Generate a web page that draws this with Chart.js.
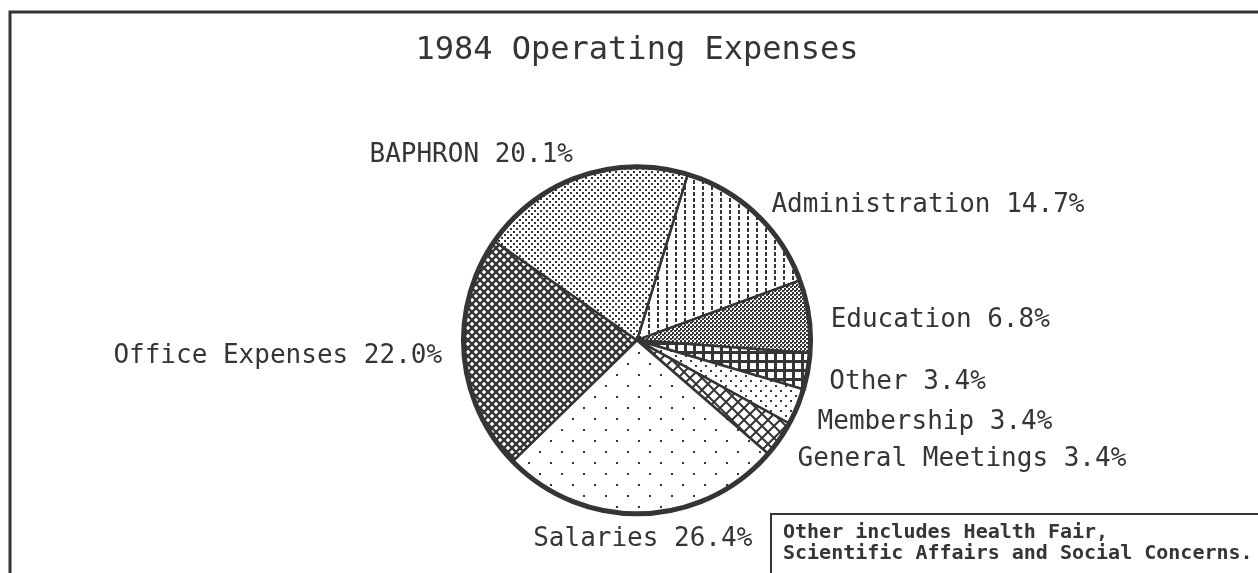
<!DOCTYPE html>
<html>
<head>
<meta charset="utf-8">
<script src="https://cdn.jsdelivr.net/npm/chart.js@4/dist/chart.umd.min.js"></script>
<style>
  html, body { margin: 0; padding: 0; background: #fff; }
  #wrap { width: 1258px; height: 573px; }
</style>
</head>
<body>
<div id="wrap"><canvas id="pieChart" width="1258" height="573"></canvas></div>
<script>
// clockwise, starting at the BAPHRON / Administration edge
var categories = ["Administration", "Education", "Other", "Membership",
  "General Meetings", "Salaries", "Office Expenses", "BAPHRON"];
var shares = [14.7, 6.8, 3.4, 3.4, 3.4, 26.4, 22.0, 20.1];
var shareLabels = ["14.7%", "6.8%", "3.4%", "3.4%", "3.4%", "26.4%", "22.0%", "20.1%"];
var titleText = "1984 Operating Expenses";
var noteLines = ["Other includes Health Fair,", "Scientific Affairs and Social Concerns."];

var ink = "#353535";

function makePattern(w, h, paint) {
  var c = document.createElement("canvas");
  c.width = w; c.height = h;
  var g = c.getContext("2d");
  g.fillStyle = "#fff";
  g.fillRect(0, 0, w, h);
  g.fillStyle = ink;
  g.strokeStyle = ink;
  paint(g, w, h);
  return c.getContext("2d").createPattern(c, "repeat");
}

var pats = {
  vdash: makePattern(9, 6, function (g) { g.fillRect(0, 0, 2, 4); }),
  dense: makePattern(4, 4, function (g) {
    g.fillRect(0, 0, 2, 2); g.fillRect(2, 2, 2, 2); g.fillRect(0, 2, 1, 1);
  }),
  grid: makePattern(9, 9, function (g) { g.fillRect(0, 0, 9, 3); g.fillRect(0, 0, 3, 9); }),
  midDots: makePattern(10, 10, function (g) { g.fillRect(0, 0, 2, 2); g.fillRect(5, 5, 2, 2); }),
  xhatch: makePattern(12, 12, function (g) {
    g.lineWidth = 2;
    g.beginPath();
    g.moveTo(0, 0); g.lineTo(12, 12);
    g.moveTo(12, 0); g.lineTo(0, 12);
    g.moveTo(-1, 11); g.lineTo(1, 13);
    g.moveTo(11, -1); g.lineTo(13, 1);
    g.stroke();
  }),
  sparse: makePattern(22, 22, function (g) { g.fillRect(0, 0, 2, 2); g.fillRect(11, 11, 2, 2); }),
  diamonds: makePattern(8, 8, function (g) {
    g.lineWidth = 2.4;
    g.beginPath();
    g.moveTo(0, 0); g.lineTo(8, 8);
    g.moveTo(8, 0); g.lineTo(0, 8);
    g.stroke();
  }),
  fineDots: makePattern(6, 6, function (g) { g.fillRect(0, 0, 2, 2); g.fillRect(3, 3, 2, 2); })
};

var fills = [pats.vdash, pats.dense, pats.grid, pats.midDots, pats.xhatch,
  pats.sparse, pats.diamonds, pats.fineDots];

var pieDecor = {
  id: "pieDecor",
  afterDatasetsDraw: function (chart) {
    var ctx = chart.ctx;
    var arcs = chart.getDatasetMeta(0).data;
    var a0 = arcs[0].getProps(["x", "y", "outerRadius"], true);
    ctx.save();
    ctx.strokeStyle = ink;
    ctx.lineWidth = 5;
    ctx.beginPath();
    ctx.arc(a0.x, a0.y, a0.outerRadius, 0, Math.PI * 2);
    ctx.stroke();

    // slice labels
    ctx.fillStyle = ink;
    ctx.font = "26px 'DejaVu Sans Mono'";
    ctx.textBaseline = "middle";
    arcs.forEach(function (arc, i) {
      var p = arc.getProps(["x", "y", "startAngle", "endAngle", "outerRadius"], true);
      var mid = (p.startAngle + p.endAngle) / 2;
      var cx = Math.cos(mid), cy = Math.sin(mid);
      var r = p.outerRadius + 22;
      var nudge = 0;
      if (cx > 0.15) { ctx.textAlign = "left"; nudge = 7; }
      else if (cx < -0.15) { ctx.textAlign = "right"; }
      else { ctx.textAlign = "center"; nudge = 4; }
      ctx.fillText(categories[i] + " " + shareLabels[i], p.x + cx * r, p.y + cy * r + nudge);
    });

    // frame
    ctx.lineWidth = 3;
    ctx.beginPath();
    ctx.moveTo(10, 573);
    ctx.lineTo(10, 12);
    ctx.lineTo(1258, 12);
    ctx.stroke();

    // note box
    ctx.lineWidth = 2;
    ctx.beginPath();
    ctx.moveTo(771, 573);
    ctx.lineTo(771, 514);
    ctx.lineTo(1258, 514);
    ctx.stroke();
    ctx.font = "bold 20px 'DejaVu Sans Mono'";
    ctx.textAlign = "left";
    ctx.fillText(noteLines[0], 783, 533);
    ctx.fillText(noteLines[1], 783, 554);
    ctx.restore();
  }
};

new Chart(document.getElementById("pieChart"), {
  type: "pie",
  data: {
    labels: categories,
    datasets: [{
      data: shares,
      backgroundColor: fills,
      borderColor: ink,
      borderWidth: 2.5,
      borderJoinStyle: "miter"
    }]
  },
  options: {
    responsive: false,
    animation: false,
    rotation: 17,
    layout: { padding: { left: 16, right: 0, top: 0, bottom: 58 } },
    plugins: {
      legend: { display: false },
      tooltip: { enabled: false },
      title: {
        display: true,
        text: titleText,
        color: ink,
        font: { family: "'DejaVu Sans Mono'", size: 32, weight: "normal" },
        padding: { top: 31, bottom: 96 }
      }
    }
  },
  plugins: [pieDecor]
});
</script>
</body>
</html>
